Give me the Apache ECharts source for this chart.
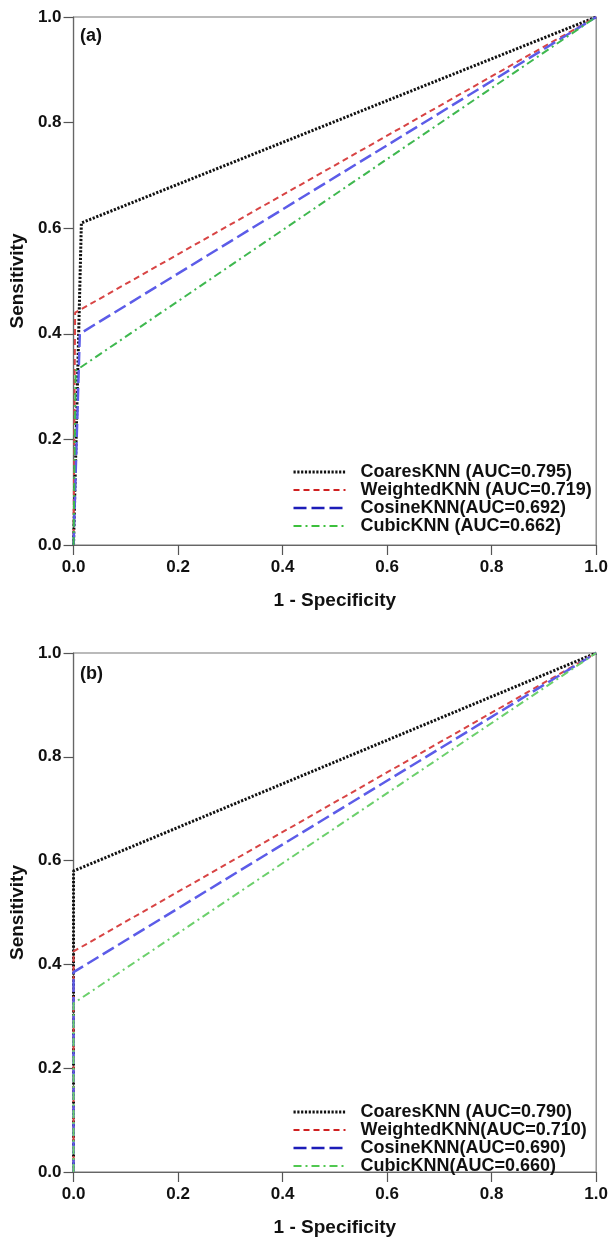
<!DOCTYPE html>
<html>
<head>
<meta charset="utf-8">
<script src="https://cdn.jsdelivr.net/npm/echarts@6/dist/echarts.min.js"></script>
<style>
html,body{margin:0;padding:0;background:#fff;}
#c{width:611px;height:1238px;}
</style>
</head>
<body>
<div id="c"></div>
<script>
// Tick labels
const tickLabels = ['0.0', '0.2', '0.4', '0.6', '0.8', '1.0'];

// Panel (a) ROC points [1-specificity, sensitivity]
const namesA = ['CoaresKNN (AUC=0.795)', 'WeightedKNN (AUC=0.719)', 'CosineKNN(AUC=0.692)', 'CubicKNN (AUC=0.662)'];
const coaresA = [[0, 0], [0.015, 0.61], [1, 1]];
const weightedA = [[0, 0], [0.003, 0.44], [1, 1]];
const cosineA = [[0, 0], [0.012, 0.40], [1, 1]];
const cubicA = [[0, 0], [0.004, 0.33], [1, 1]];

// Panel (b)
const namesB = ['CoaresKNN (AUC=0.790)', 'WeightedKNN(AUC=0.710)', 'CosineKNN(AUC=0.690)', 'CubicKNN(AUC=0.660)'];
const coaresB = [[0, 0], [0, 0.58], [1, 1]];
const weightedB = [[0, 0], [0, 0.425], [1, 1]];
const cosineB = [[0, 0], [0, 0.385], [1, 1]];
const cubicB = [[0, 0], [0, 0.325], [1, 1]];

const FONT = '"Liberation Sans", Arial, sans-serif';

const styles = [
  {color: '#111111', width: 3, type: [2.2, 1.6], legendColor: '#111111'},
  {color: '#d84444', width: 2, type: [6, 4], legendColor: '#d02020'},
  {color: '#5c5ce8', width: 2.5, type: [13, 5], legendColor: '#1c1cb8'},
  {color: '#3fb84f', width: 2, type: [8, 4, 2, 4], legendColor: '#3cc03c'}
];
const stylesB = [
  styles[0], styles[1], styles[2],
  {color: '#6cd06c', width: 2, type: [8, 4, 2, 4], legendColor: '#50c850'}
];

function mkSeries(name, data, st, idx) {
  return {
    type: 'line', name: name, data: data, xAxisIndex: idx, yAxisIndex: idx,
    symbol: 'none', showSymbol: false, animation: false,
    lineStyle: {color: st.color, width: st.width, type: st.type},
    itemStyle: {color: st.color}
  };
}

function mkX(idx) {
  return {
    type: 'value', gridIndex: idx, min: 0, max: 1, interval: 0.2,
    name: '1 - Specificity', nameLocation: 'middle', nameGap: 46,
    nameTextStyle: {fontFamily: FONT, fontWeight: 'bold', fontSize: 19, color: '#111'},
    axisLine: {show: true, lineStyle: {color: '#666', width: 1.2}},
    axisTick: {show: true, length: 10, lineStyle: {color: '#555', width: 1.2}},
    axisLabel: {fontFamily: FONT, fontWeight: 'bold', fontSize: 17, color: '#111', margin: 14,
      formatter: v => tickLabels[Math.round(v * 5)]},
    splitLine: {show: false}
  };
}
function mkY(idx) {
  return {
    type: 'value', gridIndex: idx, min: 0, max: 1, interval: 0.2,
    name: 'Sensitivity', nameLocation: 'middle', nameGap: 44, nameRotate: 90,
    nameTextStyle: {fontFamily: FONT, fontWeight: 'bold', fontSize: 19, color: '#111'},
    axisLine: {show: true, lineStyle: {color: '#666', width: 1.2}},
    axisTick: {show: true, length: 10, lineStyle: {color: '#555', width: 1.2}},
    axisLabel: {fontFamily: FONT, fontWeight: 'bold', fontSize: 17, color: '#111', margin: 12,
      formatter: v => tickLabels[Math.round(v * 5)]},
    splitLine: {show: false}
  };
}
function mkLegend(names, sts, top) {
  return {
    show: true,
    orient: 'vertical', left: 292, top: top, itemWidth: 52, itemHeight: 14, itemGap: 0,
    padding: 0,
    textStyle: {fontFamily: FONT, fontWeight: 'bold', fontSize: 18, color: '#111', lineHeight: 17.7,
      padding: [0, 0, 0, 10]},
    data: names.map((n, i) => ({name: n,
      itemStyle: {opacity: 0, color: 'transparent', borderColor: 'transparent', borderWidth: 0},
      lineStyle: {color: sts[i].legendColor, width: sts[i].width, type: sts[i].type, opacity: 1}}))
  };
}

const chart = echarts.init(document.getElementById('c'), null, {renderer: 'canvas'});
chart.setOption({
  backgroundColor: '#fff',
  animation: false,
  grid: [
    {left: 71, top: 17, width: 527, height: 528, show: true, borderColor: '#777', borderWidth: 1.2, backgroundColor: 'transparent'},
    {left: 72, top: 653, width: 525, height: 526, show: true, borderColor: '#777', borderWidth: 1.2, backgroundColor: 'transparent'}
  ],
  xAxis: [mkX(0), mkX(1)],
  yAxis: [mkY(0), mkY(1)],
  legend: [mkLegend(namesA, styles, 463), mkLegend(namesB, stylesB, 1103)],
  graphic: [
    {type: 'text', left: 80, top: 27, style: {text: '(a)', font: 'bold 18px ' + FONT, fill: '#111'}},
    {type: 'text', left: 80, top: 665, style: {text: '(b)', font: 'bold 18px ' + FONT, fill: '#111'}}
  ],
  series: [
    mkSeries(namesA[0], coaresA, styles[0], 0),
    mkSeries(namesA[1], weightedA, styles[1], 0),
    mkSeries(namesA[2], cosineA, styles[2], 0),
    mkSeries(namesA[3], cubicA, styles[3], 0),
    mkSeries(namesB[0], coaresB, stylesB[0], 1),
    mkSeries(namesB[1], weightedB, stylesB[1], 1),
    mkSeries(namesB[2], cosineB, stylesB[2], 1),
    mkSeries(namesB[3], cubicB, stylesB[3], 1)
  ]
});
</script>
</body>
</html>
